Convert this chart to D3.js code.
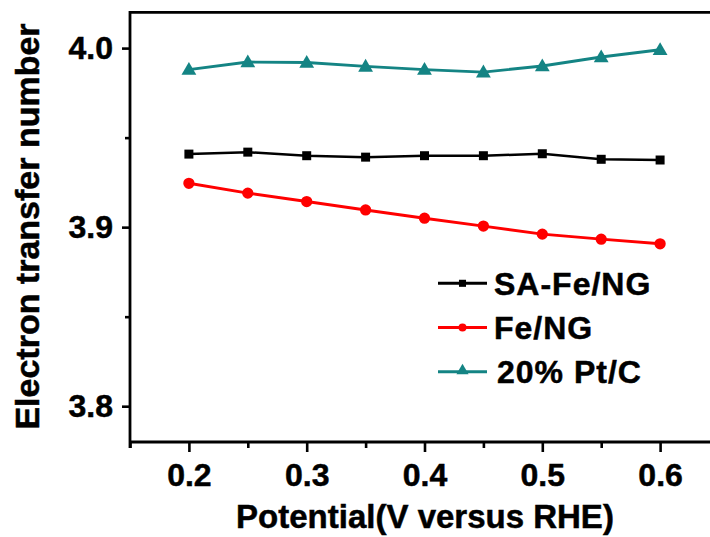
<!DOCTYPE html>
<html>
<head>
<meta charset="utf-8">
<script src="https://cdn.jsdelivr.net/npm/d3@7"></script>
<style>
  html, body { margin: 0; padding: 0; background: #fff; }
  svg { display: block; }
  text { font-family: "Liberation Sans", Arial, sans-serif; font-weight: bold; fill: #000; stroke: #000; stroke-width: 0.5px; }
</style>
</head>
<body>
<svg id="chart" width="710" height="537"></svg>
<script>
// ---- data ----
const potentials = [0.2, 0.25, 0.3, 0.35, 0.4, 0.45, 0.5, 0.55, 0.6];
const saFeNG = [3.9408, 3.9419, 3.9399, 3.9391, 3.9399, 3.9399, 3.9410, 3.9379, 3.9375];
const feNG   = [3.9245, 3.9190, 3.9143, 3.9096, 3.9050, 3.9006, 3.8961, 3.8933, 3.8907];
const ptC    = [3.9880, 3.9922, 3.9920, 3.9898, 3.9880, 3.9866, 3.9900, 3.9950, 3.9991];
const seriesNames = ["SA-Fe/NG", "Fe/NG", "20% Pt/C"];
const xTickValues = [0.2, 0.3, 0.4, 0.5, 0.6];
const xMinorTicks = [0.15, 0.25, 0.35, 0.45, 0.55, 0.65];
const yTickValues = [3.8, 3.9, 4.0];
const yMinorTicks = [3.85, 3.95];
const xTitle = "Potential(V versus RHE)";
const yTitle = "Electron transfer number";

const series = [
  { name: seriesNames[0], values: saFeNG, color: "#000000", marker: "square" },
  { name: seriesNames[1], values: feNG,   color: "#ff0000", marker: "circle" },
  { name: seriesNames[2], values: ptC,    color: "#148484", marker: "triangle" }
];

const svg = d3.select("#chart");
const pLeft = 130, pRight = 719, pTop = 12.3, pBottom = 442;

const x = d3.scaleLinear().domain([0.15, 0.65]).range([pLeft, pRight]);
const y = d3.scaleLinear().domain([3.78, 4.02]).range([pBottom, pTop]);

// frame: top line
svg.append("line").attr("x1", pLeft).attr("x2", 712).attr("y1", pTop).attr("y2", pTop)
  .attr("stroke", "#000").attr("stroke-width", 2.8);

// X axis (major)
const xAxis = svg.append("g").attr("transform", `translate(0,${pBottom})`)
  .call(d3.axisBottom(x).tickValues(xTickValues).tickFormat(d3.format(".1f")).tickSize(10).tickPadding(12));
xAxis.select(".domain").attr("stroke-width", 2.8).attr("d", `M${pLeft},0H712`);
xAxis.selectAll(".tick line").attr("stroke-width", 2.6);
xAxis.selectAll(".tick text").attr("font-size", 32).attr("font-family", "Liberation Sans").attr("font-weight", "bold").attr("dy", "0.7em");
// X minor
svg.append("g").attr("transform", `translate(0,${pBottom})`)
  .call(d3.axisBottom(x).tickValues(xMinorTicks).tickFormat("").tickSize(6))
  .call(g => g.select(".domain").remove())
  .selectAll(".tick line").attr("stroke-width", 2.6);

// Y axis (major)
const yAxis = svg.append("g").attr("transform", `translate(${pLeft},0)`)
  .call(d3.axisLeft(y).tickValues(yTickValues).tickFormat(d3.format(".1f")).tickSize(8).tickPadding(9));
yAxis.select(".domain").attr("stroke-width", 2.8).attr("d", `M0,${pBottom + 6}V${pTop - 1.4}`);
yAxis.selectAll(".tick line").attr("stroke-width", 2.6);
yAxis.selectAll(".tick text").attr("font-size", 32).attr("font-family", "Liberation Sans").attr("font-weight", "bold");
// Y minor
svg.append("g").attr("transform", `translate(${pLeft},0)`)
  .call(d3.axisLeft(y).tickValues(yMinorTicks).tickFormat("").tickSize(5))
  .call(g => g.select(".domain").remove())
  .selectAll(".tick line").attr("stroke-width", 2.6);

// titles
svg.append("text").attr("x", 425).attr("y", 528).attr("text-anchor", "middle")
  .attr("font-size", 33).text(xTitle);
svg.append("text").attr("transform", `translate(39,226.5) rotate(-90)`).attr("text-anchor", "middle")
  .attr("font-size", 34).text(yTitle);

// markers
const sym = {
  square: d3.symbol().type(d3.symbolSquare).size(81),
  circle: d3.symbol().type(d3.symbolCircle).size(100),
  triangle: d3.symbol().type(d3.symbolTriangle).size(95)
};

const line = d3.line().x((d, i) => x(potentials[i])).y(d => y(d));

series.forEach(s => {
  svg.append("path").attr("d", line(s.values)).attr("fill", "none")
    .attr("stroke", s.color).attr("stroke-width", s.marker === "square" ? 2.5 : 2.9);
  svg.append("g").selectAll("path").data(s.values).join("path")
    .attr("transform", (d, i) => `translate(${x(potentials[i])},${y(d) + (s.marker === "triangle" ? 1 : 0)})`)
    .attr("d", sym[s.marker]()).attr("fill", s.color);
});

// legend
const legendRows = [283.3, 327.5, 371.7];
series.forEach((s, i) => {
  const ly = legendRows[i];
  svg.append("line").attr("x1", 438).attr("x2", 487).attr("y1", ly).attr("y2", ly)
    .attr("stroke", s.color).attr("stroke-width", 3);
  svg.append("path").attr("transform", `translate(462.5,${ly + (s.marker === "triangle" ? -1 : 0)})`)
    .attr("d", d3.symbol().type(s.marker === "square" ? d3.symbolSquare : s.marker === "circle" ? d3.symbolCircle : d3.symbolTriangle).size(s.marker === "triangle" ? 64 : 50)())
    .attr("fill", s.color);
  svg.append("text").attr("x", i === 2 ? 497 : 494).attr("y", ly + 11.5)
    .attr("font-size", 32).attr("letter-spacing", 1).text(s.name);
});
</script>
</body>
</html>
